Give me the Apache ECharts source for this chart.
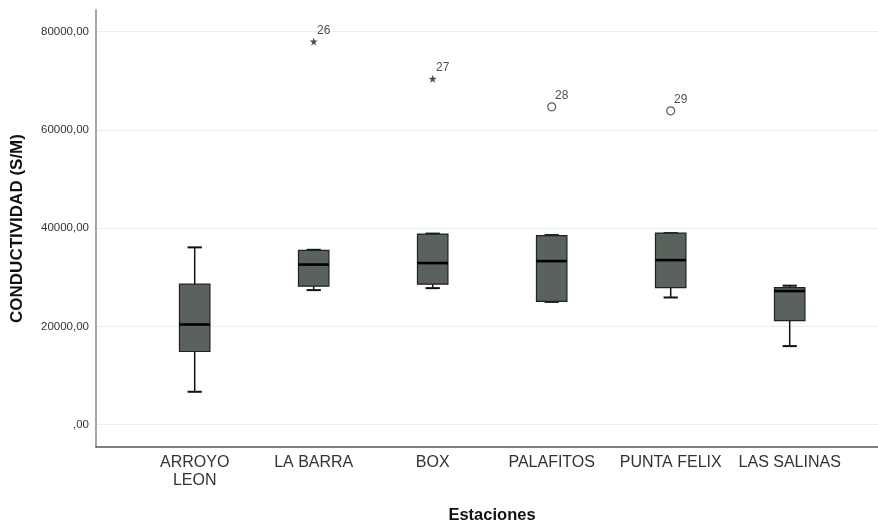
<!DOCTYPE html>
<html>
<head>
<meta charset="utf-8">
<script src="https://cdn.jsdelivr.net/npm/echarts@6/dist/echarts.min.js"></script>
<style>
html,body{margin:0;padding:0;background:#fff;}
#chart{width:878px;height:525px;}
</style>
</head>
<body>
<div id="chart"></div>
<script>
// ---- data ----
const categories = ['ARROYO\nLEON', 'LA BARRA', 'BOX', 'PALAFITOS', 'PUNTA FELIX', 'LAS SALINAS'];
const whiskerLow  = [6700, 27400, 27800, 25000, 25900, 16000];
const q1          = [14900, 28200, 28600, 25100, 27900, 21200];
const median      = [20400, 32600, 32900, 33300, 33500, 27200];
const q3          = [28600, 35500, 38800, 38500, 39000, 27900];
const whiskerHigh = [36100, 35600, 38900, 38600, 39000, 28300];

const outlierCategory = [1, 2, 3, 4];
const outlierValues   = [78000, 70400, 64700, 63900];
const outlierIds      = ['26', '27', '28', '29'];
const outlierExtreme  = [true, true, false, false];

const yTickValues = [0, 20000, 40000, 60000, 80000];
const yTickLabels = [',00', '20000,00', '40000,00', '60000,00', '80000,00'];

// ---- build ----
const FONT = "'Liberation Sans', Arial, sans-serif";
const boxData = categories.map((c, i) => [i, whiskerLow[i], q1[i], median[i], q3[i], whiskerHigh[i]]);
const starPath = 'path://M0,-10 L2.35,-3.24 9.51,-3.09 3.8,1.24 5.88,8.09 0,4 -5.88,8.09 -3.8,1.24 -9.51,-3.09 -2.35,-3.24 Z';
const extremeData = [], outlierData = [];
outlierValues.forEach((v, i) => {
  const item = { value: [outlierCategory[i], v], id: outlierIds[i] };
  (outlierExtreme[i] ? extremeData : outlierData).push(item);
});

function renderBox(params, api) {
  const x = api.value(0);
  const pMin = api.coord([x, api.value(1)]);
  const pQ1 = api.coord([x, api.value(2)]);
  const pMed = api.coord([x, api.value(3)]);
  const pQ3 = api.coord([x, api.value(4)]);
  const pMax = api.coord([x, api.value(5)]);
  const unit = api.size([1, 0])[0];
  const half = unit * 0.128;
  const capHalf = unit * 0.06;
  const cx = pMed[0];
  const lineStyle = { stroke: '#111', lineWidth: 1.5 };
  return {
    type: 'group',
    children: [
      { type: 'line', shape: { x1: cx, y1: pMax[1], x2: cx, y2: pQ3[1] }, style: lineStyle },
      { type: 'line', shape: { x1: cx, y1: pQ1[1], x2: cx, y2: pMin[1] }, style: lineStyle },
      { type: 'line', shape: { x1: cx - capHalf, y1: pMax[1], x2: cx + capHalf, y2: pMax[1] }, style: { stroke: '#111', lineWidth: 2 } },
      { type: 'line', shape: { x1: cx - capHalf, y1: pMin[1], x2: cx + capHalf, y2: pMin[1] }, style: { stroke: '#111', lineWidth: 2 } },
      { type: 'rect', shape: { x: cx - half, y: pQ3[1], width: half * 2, height: pQ1[1] - pQ3[1] },
        style: { fill: '#59625c', stroke: '#222', lineWidth: 1.2 } },
      { type: 'line', shape: { x1: cx - half, y1: pMed[1], x2: cx + half, y2: pMed[1] }, style: { stroke: '#000', lineWidth: 2.6 } }
    ]
  };
}

const outlierLabel = {
  show: true, position: 'top', distance: 5, offset: [10, 4],
  formatter: p => p.data.id, fontSize: 12, color: '#222', fontFamily: FONT
};

const chart = echarts.init(document.getElementById('chart'), null, { renderer: 'canvas' });
chart.setOption({
  backgroundColor: '#fff',
  animation: false,
  textStyle: { fontFamily: FONT },
  grid: { left: 96, right: 0, top: 10, bottom: 78, containLabel: false, outerBoundsMode: 'none' },
  xAxis: {
    type: 'value',
    min: -0.8294,
    max: 5.742,
    name: 'Estaciones',
    nameLocation: 'middle',
    nameGap: 60,
    nameTextStyle: { fontSize: 16.5, fontWeight: 'bold', color: '#111', fontFamily: FONT, padding: [0, 0, 0, 10] },
    axisLine: { show: true, onZero: false, lineStyle: { color: '#555', width: 1.5 } },
    axisTick: { show: false, customValues: [0, 1, 2, 3, 4, 5] },
    splitLine: { show: false },
    axisLabel: {
      customValues: [0, 1, 2, 3, 4, 5],
      formatter: v => categories[Math.round(v)] || '',
      fontSize: 16, color: '#333', lineHeight: 18, margin: 7, fontFamily: FONT
    }
  },
  yAxis: {
    type: 'value',
    min: -4540,
    max: 84420,
    name: 'CONDUCTIVIDAD (S/M)',
    nameLocation: 'middle',
    nameGap: 70,
    nameTextStyle: { fontSize: 17, fontWeight: 'bold', color: '#111', fontFamily: FONT },
    axisLine: { show: true, onZero: false, lineStyle: { color: '#888', width: 1.5 } },
    axisTick: { show: false, customValues: yTickValues },
    splitLine: { show: true, lineStyle: { color: '#e7eef8', width: 1 } },
    axisLabel: {
      customValues: yTickValues,
      formatter: v => yTickLabels[yTickValues.indexOf(v)],
      fontSize: 11.5, color: '#333', margin: 7, fontFamily: FONT
    }
  },
  series: [
    {
      type: 'custom',
      renderItem: renderBox,
      data: boxData,
      encode: { x: 0, y: [1, 2, 3, 4, 5] },
      z: 3
    },
    {
      type: 'scatter',
      data: extremeData,
      symbol: starPath,
      symbolSize: 8,
      itemStyle: { color: '#222' },
      label: outlierLabel,
      z: 4
    },
    {
      type: 'scatter',
      data: outlierData,
      symbol: 'circle',
      symbolSize: 8,
      itemStyle: { color: '#fff', borderColor: '#333', borderWidth: 1.2 },
      label: outlierLabel,
      z: 4
    }
  ]
});
</script>
</body>
</html>
